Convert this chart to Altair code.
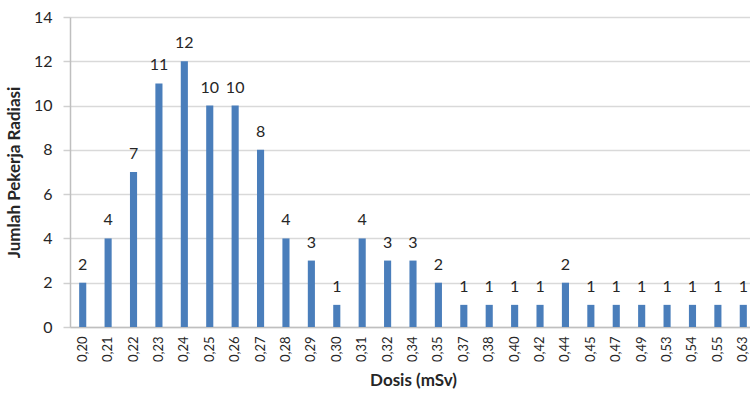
import altair as alt
import pandas as pd

dosis = ["0,20", "0,21", "0,22", "0,23", "0,24", "0,25", "0,26", "0,27", "0,28", "0,29",
         "0,30", "0,31", "0,32", "0,34", "0,35", "0,37", "0,38", "0,40", "0,42", "0,44",
         "0,45", "0,47", "0,49", "0,53", "0,54", "0,55", "0,63"]
jumlah = [2, 4, 7, 11, 12, 10, 10, 8, 4, 3, 1, 4, 3, 3, 2, 1, 1, 1, 1, 2, 1, 1, 1, 1, 1, 1, 1]
y_ticks = [0, 2, 4, 6, 8, 10, 12, 14]

df = pd.DataFrame({"dosis": dosis, "jumlah": jumlah})

FONT = "Lato"
TXT = "#262626"

x = alt.X(
    "dosis:N",
    sort=None,
    title="Dosis (mSv)",
    scale=alt.Scale(paddingInner=0.72, paddingOuter=0.36, range=[0, 686]),
    axis=alt.Axis(
        labelAngle=-90,
        labelFontSize=13,
        labelColor=TXT,
        labelFont=FONT,
        labelPadding=9,
        ticks=False,
        domainColor="#bfbfbf",
        domainWidth=1.5,
        titleFont=FONT,
        titleFontSize=17,
        titleFontWeight="bold",
        titleColor=TXT,
        titlePadding=11,
        grid=False,
    ),
)
y = alt.Y(
    "jumlah:Q",
    title="Jumlah Pekerja Radiasi",
    scale=alt.Scale(domain=[0, 14], nice=False),
    axis=alt.Axis(
        values=y_ticks,
        labelFontSize=16,
        labelColor=TXT,
        labelFont=FONT,
        labelPadding=11,
        tickSize=7,
        tickColor="#d0d0d0",
        tickWidth=1.5,
        domainColor="#bfbfbf",
        domainWidth=1.5,
        gridColor="#d9d9d9",
        gridWidth=1.5,
        titleFont=FONT,
        titleFontSize=17,
        titleFontWeight="bold",
        titleColor=TXT,
        titleX=-47,
    ),
)

bars = alt.Chart(df).mark_bar(color="#4a7ebb").encode(x=x, y=y)
labels = alt.Chart(df).mark_text(
    dy=-13, fontSize=16, font=FONT, color=TXT, baseline="alphabetic"
).encode(x=alt.X("dosis:N", sort=None), y="jumlah:Q", text="jumlah:Q")

chart = (
    alt.layer(bars, labels)
    .properties(
        width=680,
        height=310,
        autosize=alt.AutoSizeParams(type="none"),
        padding={"left": 70, "top": 17, "right": 0, "bottom": 69},
        background="white",
    )
    .configure_view(stroke=None)
)

chart.save("out.html", embed_options={"renderer": "svg", "actions": False})
